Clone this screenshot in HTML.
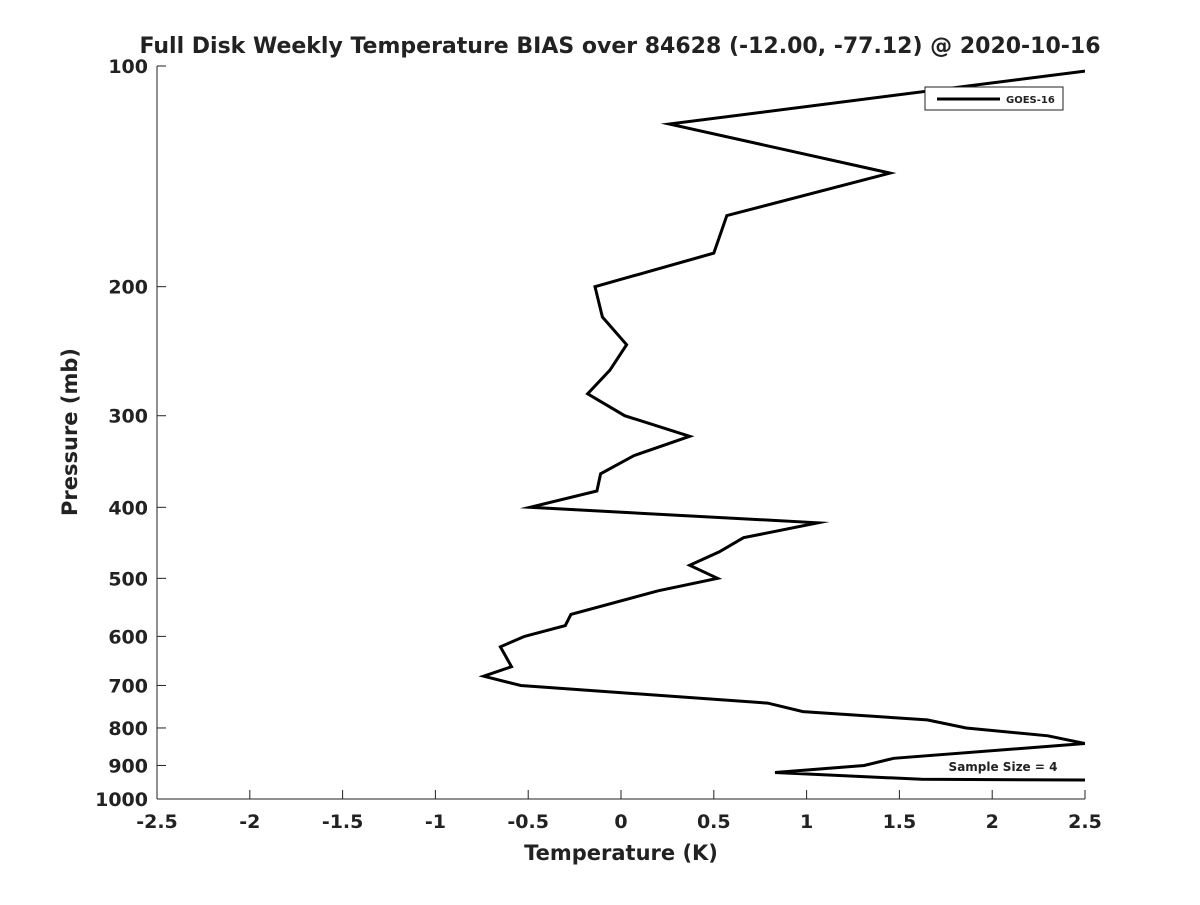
<!DOCTYPE html>
<html><head><meta charset="utf-8"><style>
body{margin:0;background:#fff;}
svg text{font-family:"DejaVu Sans","Liberation Sans",sans-serif;font-weight:bold;fill:#222;}
</style></head><body>
<svg id="chart" width="1200" height="900" xmlns="http://www.w3.org/2000/svg">
<rect width="1200" height="900" fill="#fff"/>
<text x="620" y="53" font-size="22" text-anchor="middle">Full Disk Weekly Temperature BIAS over 84628 (-12.00, -77.12) @ 2020-10-16</text>
<defs><clipPath id="plotclip"><rect x="157" y="66" width="928" height="733"/></clipPath></defs>
<g id="axes"></g>
<g id="series" clip-path="url(#plotclip)"></g>
<g>
<rect x="925" y="87" width="138" height="23" fill="#fff" stroke="#222" stroke-width="1"/>
<line x1="937" y1="99" x2="1000" y2="99" stroke="#000" stroke-width="3"/>
<text x="1006" y="103" font-size="10">GOES-16</text>
</g>
<text x="1003" y="771" font-size="12" text-anchor="middle">Sample Size = 4</text>
<text x="621" y="860" font-size="21" text-anchor="middle">Temperature (K)</text>
<text transform="translate(77,432) rotate(-90)" font-size="21" text-anchor="middle">Pressure (mb)</text>
</svg>
<script>
const temps=[2.5,0.26,1.45,0.57,0.5,-0.14,-0.1,0.03,-0.06,-0.18,0.02,0.37,0.07,-0.11,-0.13,-0.49,1.06,0.66,0.53,0.37,0.52,0.2,-0.27,-0.3,-0.52,-0.65,-0.59,-0.74,-0.54,0.79,0.98,1.65,1.86,2.3,2.5,1.47,1.31,0.83,1.62,2.5];
const pressures=[101.6,120,140,160,180,200,220,240,260,280,300,320,340,360,380,400,420,440,460,480,500,520,560,580,600,620,660,680,700,740,760,780,800,820,840,880,900,920,940,942];
const xTicks=[-2.5,-2,-1.5,-1,-0.5,0,0.5,1,1.5,2,2.5];
const yTicks=[100,200,300,400,500,600,700,800,900,1000];
const X0=157,X1=1085,Y0=66,Y1=799;
const xs=v=>X0+(v+2.5)/5*(X1-X0);
const ys=p=>Y0+Math.log10(p/100)*(Y1-Y0);
const NS="http://www.w3.org/2000/svg";
const axes=document.getElementById('axes');
function mk(tag,attrs,parent){const e=document.createElementNS(NS,tag);for(const k in attrs)e.setAttribute(k,attrs[k]);parent.appendChild(e);return e;}
const la=mk('line',{x1:X0,y1:Y0,x2:X0,y2:Y1,stroke:'#222','stroke-width':1},axes);


const lb=mk('line',{x1:X0,y1:Y1,x2:X1,y2:Y1,stroke:'#222','stroke-width':1},axes);


xTicks.forEach(t=>{
 const x=xs(t);
 const tk=mk('line',{x1:x,y1:Y1,x2:x,y2:Y1-9,stroke:'#222'},axes);
 
 
 const tx=mk('text',{x:x,y:Y1+29,'font-size':19,'text-anchor':'middle'},axes);
 tx.textContent=String(t);
 
 
});
yTicks.forEach(t=>{
 const y=ys(t);
 const tk=mk('line',{x1:X0,y1:y,x2:X0+9,y2:y,stroke:'#222'},axes);
 
 
 const tx=mk('text',{x:X0-9,y:y+7,'font-size':19,'text-anchor':'end'},axes);
 tx.textContent=String(t);
 
 
});
const pts=temps.map((t,i)=>xs(t).toFixed(1)+','+ys(pressures[i]).toFixed(1)).join(' ');
const pl=mk('polyline',{points:pts,fill:'none',stroke:'#000','stroke-width':3,'stroke-linejoin':'miter','stroke-miterlimit':10},document.getElementById('series'));


</script>
</body></html>
